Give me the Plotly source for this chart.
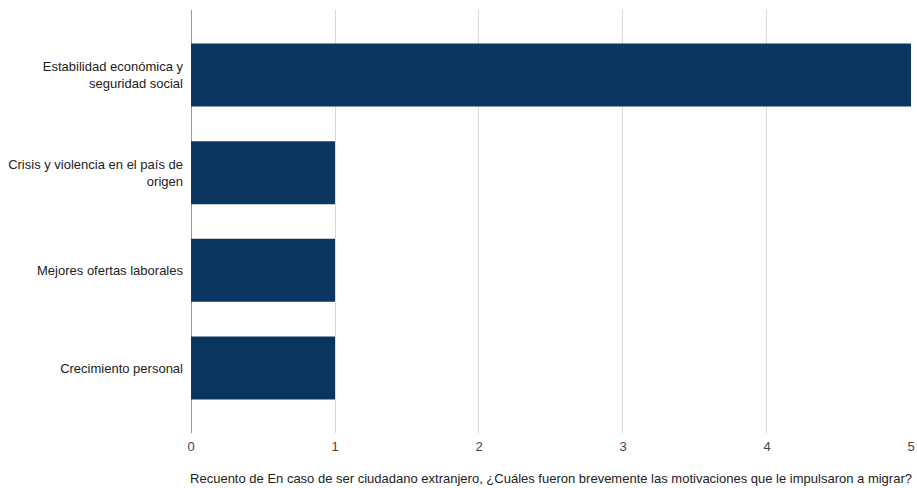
import plotly.graph_objects as go

categories = [
    "Estabilidad económica y<br>seguridad social",
    "Crisis y violencia en el país de<br>origen",
    "Mejores ofertas laborales",
    "Crecimiento personal",
]
counts = [5, 1, 1, 1]
x_ticks = [0, 1, 2, 3, 4, 5]
x_title = "Recuento de En caso de ser ciudadano extranjero, ¿Cuáles fueron brevemente las motivaciones que le impulsaron a migrar?"

fig = go.Figure(
    go.Bar(
        y=categories,
        x=counts,
        orientation="h",
        marker=dict(color="#0A3660", line=dict(width=0)),
        width=0.645,
        hoverinfo="x+y",
    )
)

fig.update_layout(
    width=917,
    height=488,
    margin=dict(l=191, r=6, t=10, b=55, autoexpand=False),
    paper_bgcolor="white",
    plot_bgcolor="white",
    font=dict(family="Liberation Sans, Arial, sans-serif", size=13, color="#222222"),
    showlegend=False,
    bargap=0.355,
)

fig.update_xaxes(
    range=[0, 5.0001],
    tickvals=x_ticks,
    ticktext=[str(v) for v in x_ticks],
    showgrid=True,
    gridcolor="#D9D9D9",
    gridwidth=1,
    zeroline=False,
    showline=False,
    ticks="",
    automargin=False,
    ticklabelstandoff=4,
    tickfont=dict(size=13, color="#444444"),
    title=dict(text=x_title, font=dict(size=13, color="#222222"), standoff=20),
)

fig.update_yaxes(
    type="category",
    categoryorder="array",
    categoryarray=categories,
    range=[3.665, -0.665],
    showgrid=False,
    zeroline=False,
    showline=False,
    ticks="",
    automargin=False,
    ticklabelstandoff=7,
    tickfont=dict(size=13, color="#222222"),
)

# vertical axis line at x=0
fig.add_shape(
    type="line", xref="x", yref="paper", x0=0, x1=0, y0=0, y1=1,
    line=dict(color="#333333", width=1),
)

fig.write_html(
    "out.html",
    config={"displayModeBar": False},
    post_script=(
        "document.body.style.margin='0';"
        "document.body.style.overflow='hidden';"
        "document.documentElement.style.overflow='hidden';"
    ),
)
